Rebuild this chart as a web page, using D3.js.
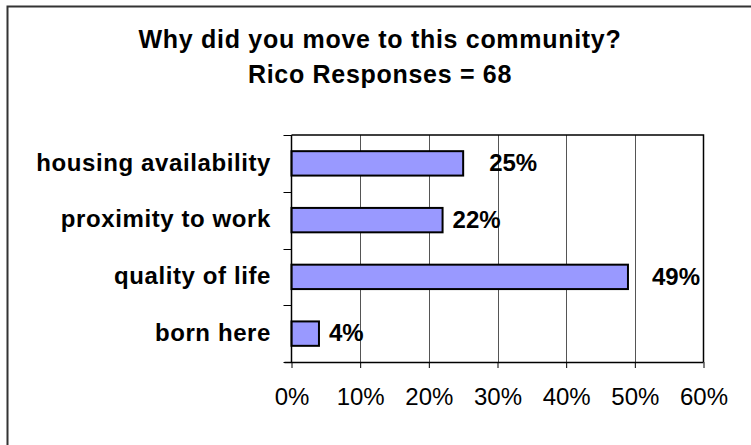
<!DOCTYPE html>
<html>
<head>
<meta charset="utf-8">
<script src="https://cdn.jsdelivr.net/npm/d3@7"></script>
<style>
  html, body { margin: 0; padding: 0; background: #fff; }
  svg { display: block; font-family: "Liberation Sans", Arial, sans-serif; }
</style>
</head>
<body>
<svg id="chart" width="751" height="445"></svg>
<script>
// Survey responses: share of respondents per reason (percent)
const categories = ["housing availability", "proximity to work", "quality of life", "born here"];
const shares = [25, 22, 49, 4];
const xTicks = [0, 10, 20, 30, 40, 50, 60];
const titleLines = ["Why did you move to this community?", "Rico Responses = 68"];
// extra gap between bar end and its value label
const labelGap = [26, 10, 24, 10];

const svg = d3.select("#chart");
const W = 751, H = 445;
const plot = { left: 291.5, top: 135, right: 703.5, bottom: 362 };

// outer frame (left and top edges)
svg.append("path")
  .attr("d", `M7.5,${H} V6.5 H${W}`)
  .attr("fill", "none")
  .attr("stroke", "#333")
  .attr("stroke-width", 2);

// title
svg.append("g").selectAll("text").data(titleLines).join("text")
  .attr("x", 380)
  .attr("y", (d, i) => 48 + i * 35)
  .attr("text-anchor", "middle")
  .attr("font-size", 25)
  .attr("font-weight", "bold")
  .attr("letter-spacing", 0.7)
  .attr("fill", "#000")
  .text(d => d);

const x = d3.scaleLinear().domain([0, 60]).range([plot.left, plot.right]);
const y = d3.scaleBand().domain(categories).range([plot.top, plot.bottom]).padding(0);

// vertical gridlines
svg.append("g").selectAll("line").data(xTicks.slice(1, -1)).join("line")
  .attr("x1", d => Math.round(x(d)) + 0.5).attr("x2", d => Math.round(x(d)) + 0.5)
  .attr("y1", plot.top).attr("y2", plot.bottom)
  .attr("stroke", "#555").attr("stroke-width", 1);

// top and right plot border
svg.append("path")
  .attr("d", `M${plot.left},${plot.top} H${plot.right} V${plot.bottom}`)
  .attr("fill", "none").attr("stroke", "#000").attr("stroke-width", 1.5);

// bars
const barH = y.bandwidth() * 0.43;
svg.append("g").selectAll("rect").data(shares).join("rect")
  .attr("x", x(0))
  .attr("y", (d, i) => y(categories[i]) + (y.bandwidth() - barH) / 2)
  .attr("width", d => x(d) - x(0))
  .attr("height", barH)
  .attr("fill", "#9999FF")
  .attr("stroke", "#000")
  .attr("stroke-width", 2);

// x axis
const xAxis = d3.axisBottom(x).tickValues(xTicks).tickSize(6).tickFormat(d => d + "%");
const gx = svg.append("g").attr("transform", `translate(0,${plot.bottom})`).call(xAxis);
gx.select(".domain").attr("d", `M${plot.left - 7},0.5 H${plot.right}`).attr("stroke", "#000").attr("stroke-width", 1.5);
gx.selectAll(".tick line").attr("stroke", "#000");
gx.selectAll(".tick text")
  .attr("y", 43).attr("dy", 0)
  .attr("font-size", 24).attr("font-family", "Liberation Sans, Arial, sans-serif")
  .attr("fill", "#000");

// y axis: ticks sit on band boundaries
const bounds = d3.range(categories.length + 1).map(i => plot.top + i * y.step());
const gy = svg.append("g");
gy.append("line")
  .attr("x1", plot.left).attr("x2", plot.left)
  .attr("y1", plot.top).attr("y2", plot.bottom)
  .attr("stroke", "#000").attr("stroke-width", 1.5);
gy.selectAll("line.tk").data(bounds).join("line").attr("class", "tk")
  .attr("x1", plot.left - 8).attr("x2", plot.left)
  .attr("y1", d => Math.round(d) + 0.5).attr("y2", d => Math.round(d) + 0.5)
  .attr("stroke", "#000").attr("stroke-width", 1);

// category labels
svg.append("g").selectAll("text").data(categories).join("text")
  .attr("x", 271)
  .attr("y", d => y(d) + y.bandwidth() / 2)
  .attr("dy", "0.3em")
  .attr("text-anchor", "end")
  .attr("font-size", 24)
  .attr("font-weight", "bold")
  .attr("letter-spacing", 0.6)
  .attr("fill", "#000")
  .text(d => d);

// value labels
svg.append("g").selectAll("text").data(shares).join("text")
  .attr("x", (d, i) => x(d) + labelGap[i])
  .attr("y", (d, i) => y(categories[i]) + y.bandwidth() / 2)
  .attr("dy", "0.32em")
  .attr("font-size", 24)
  .attr("font-weight", "bold")
  .attr("fill", "#000")
  .text(d => d + "%");
</script>
</body>
</html>
